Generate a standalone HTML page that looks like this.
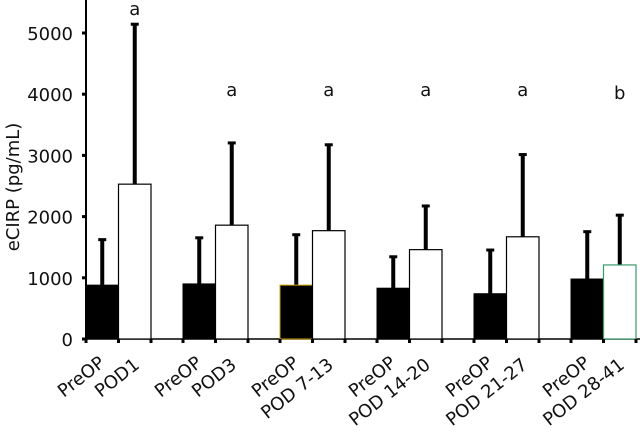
<!DOCTYPE html>
<html><head><meta charset="utf-8"><style>
body{margin:0;background:#fff;}
svg text{font-family:"DejaVu Sans","Liberation Sans",sans-serif;fill:#111;}
</style></head><body>
<svg id="c" width="644" height="428"></svg>
<script>
const categories=["POD1","POD3","POD 7-13","POD 14-20","POD 21-27","POD 28-41"];
const preMeans=[880,900,880,830,740,980];
const preErr=[1640,1670,1720,1360,1470,1770];
const postMeans=[2530,1860,1770,1460,1670,1210];
const postErr=[5160,3220,3190,2190,3030,2040];
const sigLetters=["a","a","a","a","a","b"];
const yTicks=[0,1000,2000,3000,4000,5000];
const ns="http://www.w3.org/2000/svg";
const svg=document.getElementById('c');
const y0=339,k=0.0612,x0=86,gap=97,bw=32.5;
const y=v=>y0-v*k;
function mk(t,a,p){const e=document.createElementNS(ns,t);for(const n in a)e.setAttribute(n,a[n]);(p||svg).appendChild(e);return e;}
let ya=mk('line',{x1:x0,y1:0,x2:x0,y2:y0+1,stroke:'#000','stroke-width':2});


let xa=mk('line',{x1:x0,y1:y0,x2:640,y2:y0,stroke:'#000','stroke-width':1.5});


yTicks.forEach(v=>{
 let t=mk('line',{x1:x0-4,y1:y(v),x2:x0,y2:y(v),stroke:'#000','stroke-width':3});
 
 
 let l=mk('text',{x:73,y:y(v)+7,'text-anchor':'end','font-size':18});
 l.textContent=v;
 
 
});
let yt=mk('text',{x:0,y:0,'text-anchor':'middle','font-size':18,transform:'translate(19,187) rotate(-90)'});
yt.textContent='eCIRP (pg/mL)';


function err(cx,top,bot){
 let g=mk('g',{});
 
 
 mk('line',{x1:cx,y1:y(top),x2:cx,y2:y(bot),stroke:'#000','stroke-width':4},g);
 mk('line',{x1:cx-4,y1:y(top)+1,x2:cx+4,y2:y(top)+1,stroke:'#000','stroke-width':3},g);
}
categories.forEach((c,i)=>{
 const xl=x0+i*gap;
 err(xl+bw/2,preErr[i],preMeans[i]);
 err(xl+bw*1.5,postErr[i],postMeans[i]);
 let b1=mk('rect',{x:xl,y:y(preMeans[i]),width:bw,height:preMeans[i]*k,fill:'#000',stroke:i==2?'#c9a000':'#000','stroke-width':1});
 
 
 let b2=mk('rect',{x:xl+bw,y:y(postMeans[i]),width:bw,height:postMeans[i]*k,fill:'#fff',stroke:i==5?'#3a9a6a':'#000','stroke-width':1.2});
 
 
 [0,1,2].forEach(j=>{mk('line',{x1:xl+j*bw,y1:y0,x2:xl+j*bw,y2:y0+4,stroke:'#000','stroke-width':3});});
 let s=mk('text',{x:xl+bw*1.5,y:i==0?15:i==5?99:96,'text-anchor':'middle','font-size':18});
 s.textContent=sigLetters[i];
 
 
 let l1=mk('text',{x:0,y:0,'text-anchor':'end','font-size':18,transform:`translate(${xl+20},${y0+26}) rotate(-38)`});
 l1.textContent='PreOP';
 
 
 let l2=mk('text',{x:0,y:0,'text-anchor':'end','font-size':18,transform:`translate(${xl+bw+22},${y0+28}) rotate(-38)`});
 l2.textContent=c;
 
 
});
</script>
</body></html>
